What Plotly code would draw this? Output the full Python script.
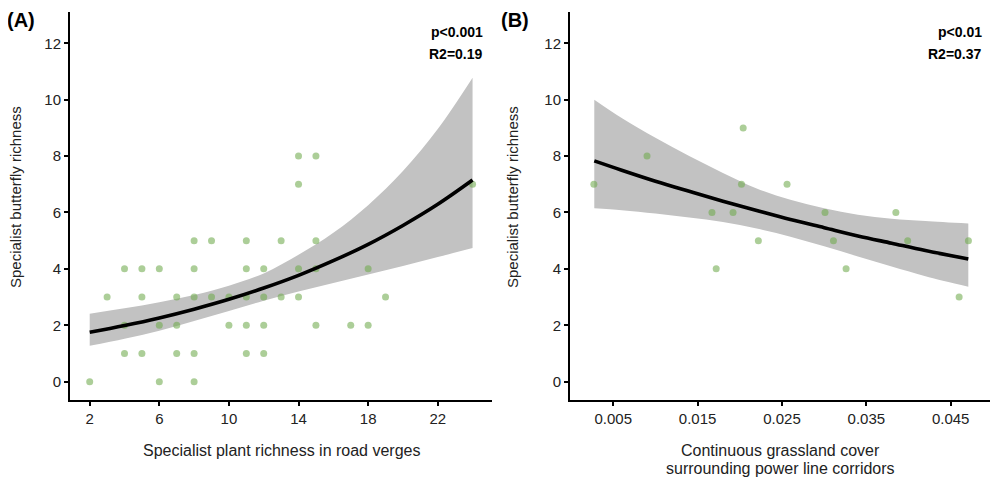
import plotly.graph_objects as go

# ---------------- Data: panel A ----------------
plant_richness = [2, 6, 8,
                  4, 5, 7, 8, 11, 12,
                  4, 6, 7, 10, 11, 12, 15, 17, 18,
                  3, 5, 7, 8, 9, 10, 11, 12, 13, 14, 19,
                  4, 5, 6, 8, 11, 12, 14, 15, 18,
                  8, 9, 11, 13, 15,
                  14, 24,
                  14, 15]
butterfly_a = [0, 0, 0,
               1, 1, 1, 1, 1, 1,
               2, 2, 2, 2, 2, 2, 2, 2, 2,
               3, 3, 3, 3, 3, 3, 3, 3, 3, 3, 3,
               4, 4, 4, 4, 4, 4, 4, 4, 4,
               5, 5, 5, 5, 5,
               7, 7,
               8, 8]

fit_a_x = [2, 4, 6, 8, 10, 12, 14, 16, 18, 20, 22, 24]
fit_a_y = [1.75, 1.99, 2.26, 2.57, 2.92, 3.32, 3.77, 4.29, 4.87, 5.54, 6.29, 7.15]
fit_a_hi = [2.41, 2.60, 2.82, 3.07, 3.40, 3.84, 4.50, 5.28, 6.26, 7.47, 8.96, 10.78]
fit_a_lo = [1.27, 1.52, 1.81, 2.15, 2.51, 2.87, 3.20, 3.50, 3.80, 4.10, 4.42, 4.74]

# ---------------- Data: panel B ----------------
grass_cover = [0.0027, 0.0090, 0.0204, 0.0202, 0.0256, 0.0167, 0.0192, 0.0172,
               0.0222, 0.0301, 0.0311, 0.0326, 0.0385, 0.0399, 0.0460, 0.0471]
butterfly_b = [7, 8, 9, 7, 7, 6, 6, 4,
               5, 6, 5, 4, 6, 5, 3, 5]

fit_b_x = [0.00275, 0.006, 0.010, 0.014, 0.018, 0.022, 0.026, 0.030, 0.034, 0.038, 0.042, 0.04709]
fit_b_y = [7.83, 7.50, 7.11, 6.75, 6.40, 6.07, 5.75, 5.46, 5.17, 4.91, 4.65, 4.35]
fit_b_hi = [10.0, 9.35, 8.65, 8.00, 7.40, 6.85, 6.45, 6.15, 5.92, 5.78, 5.70, 5.61]
fit_b_lo = [6.15, 6.08, 5.96, 5.82, 5.66, 5.43, 5.14, 4.80, 4.44, 4.08, 3.74, 3.37]

y_ticks = [0, 2, 4, 6, 8, 10, 12]
x_ticks_a = [2, 6, 10, 14, 18, 22]
x_ticks_b = [0.005, 0.015, 0.025, 0.035, 0.045]
x_ticklabels_b = ["0.005", "0.015", "0.025", "0.035", "0.045"]

FONT = "Liberation Sans, Arial, sans-serif"
BAND = "rgb(194,194,194)"
PT = "rgba(112,170,78,0.58)"

# page has an 8px body margin: figure is placed at (8, 8)
OFF = 8
W, H = 998 - OFF, 480 - OFF


def px2x(px):
    return (px - OFF) / W


def py2y(py):
    return 1 - (py - OFF) / H


fig = go.Figure()


def add_panel(xs, ys, fx, fy, fhi, flo, xa, ya):
    fig.add_trace(go.Scatter(x=fx, y=flo, mode="lines", line_shape="spline",
                             line=dict(width=0, color=BAND), hoverinfo="skip",
                             showlegend=False, xaxis=xa, yaxis=ya))
    fig.add_trace(go.Scatter(x=fx, y=fhi, mode="lines", line_shape="spline",
                             fill="tonexty", fillcolor=BAND,
                             line=dict(width=0, color=BAND), hoverinfo="skip",
                             showlegend=False, xaxis=xa, yaxis=ya))
    fig.add_trace(go.Scatter(x=xs, y=ys, mode="markers",
                             marker=dict(size=7, color=PT, line=dict(width=0)),
                             showlegend=False, xaxis=xa, yaxis=ya))
    fig.add_trace(go.Scatter(x=fx, y=fy, mode="lines", line_shape="spline",
                             line=dict(color="black", width=3.6),
                             showlegend=False, xaxis=xa, yaxis=ya))


add_panel(plant_richness, butterfly_a, fit_a_x, fit_a_y, fit_a_hi, fit_a_lo, "x", "y")
add_panel(grass_cover, butterfly_b, fit_b_x, fit_b_y, fit_b_hi, fit_b_lo, "x2", "y2")

ydom = [py2y(400), py2y(11.7)]
axis_common = dict(showline=True, linecolor="black", linewidth=2, ticks="outside",
                   ticklen=4, tickwidth=1.5, tickcolor="black", showgrid=False,
                   zeroline=False, tickfont=dict(family=FONT, size=15, color="#222"))

fig.update_layout(
    width=W, height=H, margin=dict(l=0, r=0, t=0, b=0),
    paper_bgcolor="white", plot_bgcolor="white",
    font=dict(family=FONT, color="#222"),
    xaxis=dict(domain=[px2x(70), px2x(491.7)], range=[0.868, 25.1], tickvals=x_ticks_a,
               anchor="y", **axis_common),
    yaxis=dict(domain=ydom, range=[-0.65, 13.12], tickvals=y_ticks, anchor="x",
               **axis_common),
    xaxis2=dict(domain=[px2x(570), px2x(990)], range=[-0.00013, 0.04966], tickvals=x_ticks_b,
                ticktext=x_ticklabels_b, anchor="y2", **axis_common),
    yaxis2=dict(domain=ydom, range=[-0.65, 13.12], tickvals=y_ticks, anchor="x2",
                **axis_common),
)

ann = []


def paper_text(text, px, py, size, bold=False, xanchor="center", angle=0, color="#222"):
    ann.append(dict(text=("<b>%s</b>" % text) if bold else text, x=px2x(px), y=py2y(py),
                    xref="paper", yref="paper", showarrow=False, xanchor=xanchor,
                    yanchor="middle", textangle=angle, borderpad=0,
                    font=dict(family=FONT, size=size, color=color)))


paper_text("(A)", 6, 20, 20, bold=True, xanchor="left", color="black")
paper_text("(B)", 500, 20, 20, bold=True, xanchor="left", color="black")
paper_text("p&lt;0.001", 484, 32, 14, bold=True, xanchor="right", color="black")
paper_text("R2=0.19", 484, 54, 14, bold=True, xanchor="right", color="black")
paper_text("p&lt;0.01", 983, 32, 14, bold=True, xanchor="right", color="black")
paper_text("R2=0.37", 983, 54, 14, bold=True, xanchor="right", color="black")
paper_text("Specialist butterfly richness", 16, 197, 15, angle=-90)
paper_text("Specialist butterfly richness", 513, 197, 15, angle=-90)
paper_text("Specialist plant richness in road verges", 281, 450, 16)
paper_text("Continuous grassland cover", 780, 450, 16)
paper_text("surrounding power line corridors", 780, 468, 16)
fig.update_layout(annotations=ann)

fig.write_html("out.html")
